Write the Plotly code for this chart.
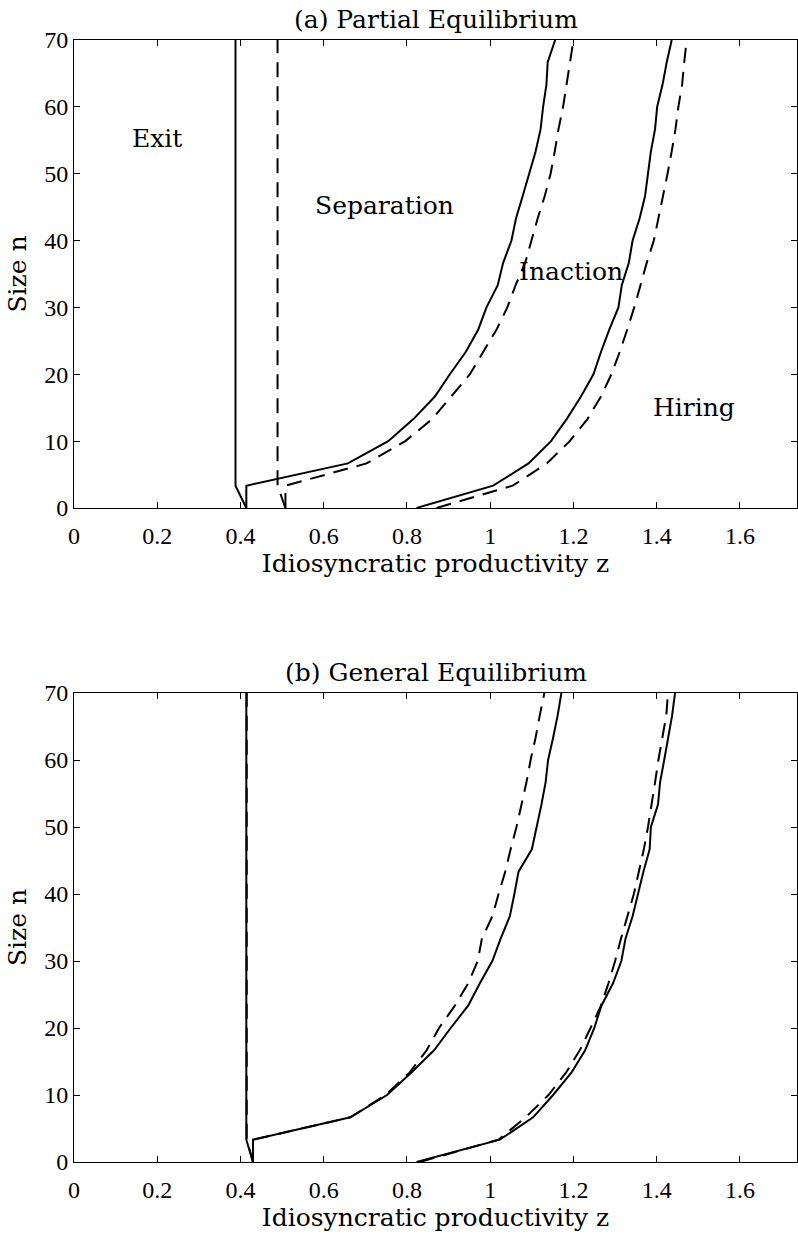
import plotly.graph_objects as go

# size grid (n)
n_grid = [0, 10/3, 20/3, 10, 40/3, 50/3, 20, 70/3, 80/3, 30, 100/3, 110/3, 40,
          130/3, 140/3, 50, 160/3, 170/3, 60, 190/3, 200/3, 70]

# (a) Partial equilibrium thresholds (z)
exit_pe_solid = [0.414] + [0.388] * 21
exit_pe_dashed = [0.508] + [0.489] * 21
sep_pe_solid = [0.414, 0.414, 0.658, 0.755, 0.816, 0.867, 0.903, 0.941, 0.971, 0.991, 1.018,
                1.031, 1.051, 1.062, 1.078, 1.094, 1.109, 1.121, 1.127, 1.135, 1.138, 1.156]
sep_pe_dashed = [0.508, 0.508, 0.703, 0.796, 0.861, 0.906, 0.951, 0.983, 1.015, 1.041, 1.061,
                 1.084, 1.099, 1.114, 1.131, 1.145, 1.155, 1.164, 1.175, 1.183, 1.191, 1.200]
hire_pe_solid = [0.823, 1.007, 1.092, 1.146, 1.184, 1.218, 1.248, 1.266, 1.286, 1.308, 1.316,
                 1.333, 1.342, 1.359, 1.372, 1.379, 1.386, 1.396, 1.401, 1.414, 1.424, 1.436]
hire_pe_dashed = [0.871, 1.054, 1.136, 1.191, 1.234, 1.266, 1.291, 1.311, 1.329, 1.346, 1.361,
                  1.376, 1.393, 1.404, 1.416, 1.426, 1.436, 1.445, 1.452, 1.461, 1.466, 1.472]

# (b) General equilibrium thresholds (z)
exit_ge_solid = [0.430] + [0.414] * 21
exit_ge_dashed = [0.430] + [0.415] * 21
sep_ge_solid = [0.430, 0.430, 0.664, 0.752, 0.810, 0.865, 0.905, 0.947, 0.975, 1.005, 1.025,
                1.047, 1.058, 1.068, 1.100, 1.112, 1.123, 1.133, 1.139, 1.151, 1.162, 1.171]
sep_ge_dashed = [0.430, 0.430, 0.664, 0.748, 0.806, 0.847, 0.877, 0.915, 0.947, 0.970, 0.980,
                 1.005, 1.020, 1.036, 1.049, 1.063, 1.075, 1.087, 1.097, 1.109, 1.119, 1.130]
hire_ge_solid = [0.823, 1.023, 1.103, 1.151, 1.195, 1.228, 1.250, 1.267, 1.295, 1.315, 1.325,
                 1.342, 1.355, 1.368, 1.383, 1.386, 1.403, 1.408, 1.418, 1.427, 1.437, 1.444]
hire_ge_dashed = [0.831, 1.020, 1.085, 1.140, 1.182, 1.215, 1.241, 1.266, 1.284, 1.300, 1.314,
                  1.330, 1.345, 1.357, 1.369, 1.379, 1.388, 1.396, 1.404, 1.413, 1.423, 1.427]

region_labels = ["Exit", "Separation", "Inaction", "Hiring"]
region_z = [0.20, 0.746, 1.193, 1.489]
region_n = [55.3, 45.2, 35.3, 15.1]

x_ticks = [0, 0.2, 0.4, 0.6, 0.8, 1.0, 1.2, 1.4, 1.6]
x_ticktext = ["0", "0.2", "0.4", "0.6", "0.8", "1", "1.2", "1.4", "1.6"]
y_ticks = [0, 10, 20, 30, 40, 50, 60, 70]

TEXT_FONT = "DejaVu Serif"
TICK_FONT = "Liberation Serif"
DASH = "15px,9px"
LW = 2

fig = go.Figure()

def add(z, xa, ya, dashed):
    fig.add_trace(go.Scatter(
        x=z, y=n_grid, mode="lines", xaxis=xa, yaxis=ya, showlegend=False,
        hoverinfo="skip",
        line=dict(color="black", width=LW, dash=DASH if dashed else "solid")))

for z in [exit_pe_solid, sep_pe_solid, hire_pe_solid]:
    add(z, "x", "y", False)
for z in [exit_pe_dashed, sep_pe_dashed, hire_pe_dashed]:
    add(z, "x", "y", True)
for z in [exit_ge_solid, sep_ge_solid, hire_ge_solid]:
    add(z, "x2", "y2", False)
for z in [exit_ge_dashed, sep_ge_dashed, hire_ge_dashed]:
    add(z, "x2", "y2", True)

axis_common = dict(
    showline=True, linecolor="black", linewidth=1, mirror="ticks",
    ticks="inside", ticklen=6, tickwidth=1, tickcolor="black",
    showgrid=False, zeroline=False,
    tickfont=dict(family=TICK_FONT, size=24, color="black"),
)

xa = dict(axis_common, range=[0, 1.737], tickvals=x_ticks, ticktext=x_ticktext,
          ticklabelstandoff=6,
          title=dict(text="Idiosyncratic productivity z", standoff=4,
                     font=dict(family=TEXT_FONT, size=25, color="black")))
ya = dict(axis_common, range=[0, 70], tickvals=y_ticks,
          title=dict(text="Size n", standoff=10,
                     font=dict(family=TEXT_FONT, size=25, color="black")))

fig.update_layout(
    width=798, height=1234,
    margin=dict(l=74, r=1, t=40, b=72),
    paper_bgcolor="white", plot_bgcolor="white",
    xaxis=dict(xa, anchor="y", domain=[0, 1]),
    yaxis=dict(ya, anchor="x", domain=[0.5829, 1.0]),
    xaxis2=dict(xa, anchor="y2", domain=[0, 1]),
    yaxis2=dict(ya, anchor="x2", domain=[0.0, 0.418]),
)

for lab, z, n in zip(region_labels, region_z, region_n):
    fig.add_annotation(x=z, y=n, xref="x", yref="y", text=lab, showarrow=False,
                       font=dict(family=TEXT_FONT, size=25, color="black"))

fig.add_annotation(x=0.5, y=1, xref="x domain", yref="y domain", text="(a) Partial Equilibrium",
                   showarrow=False, yanchor="bottom", yshift=4,
                   font=dict(family=TEXT_FONT, size=25, color="black"))
fig.add_annotation(x=0.5, y=1, xref="x2 domain", yref="y2 domain", text="(b) General Equilibrium",
                   showarrow=False, yanchor="bottom", yshift=4,
                   font=dict(family=TEXT_FONT, size=25, color="black"))

fig.write_html("out.html")
